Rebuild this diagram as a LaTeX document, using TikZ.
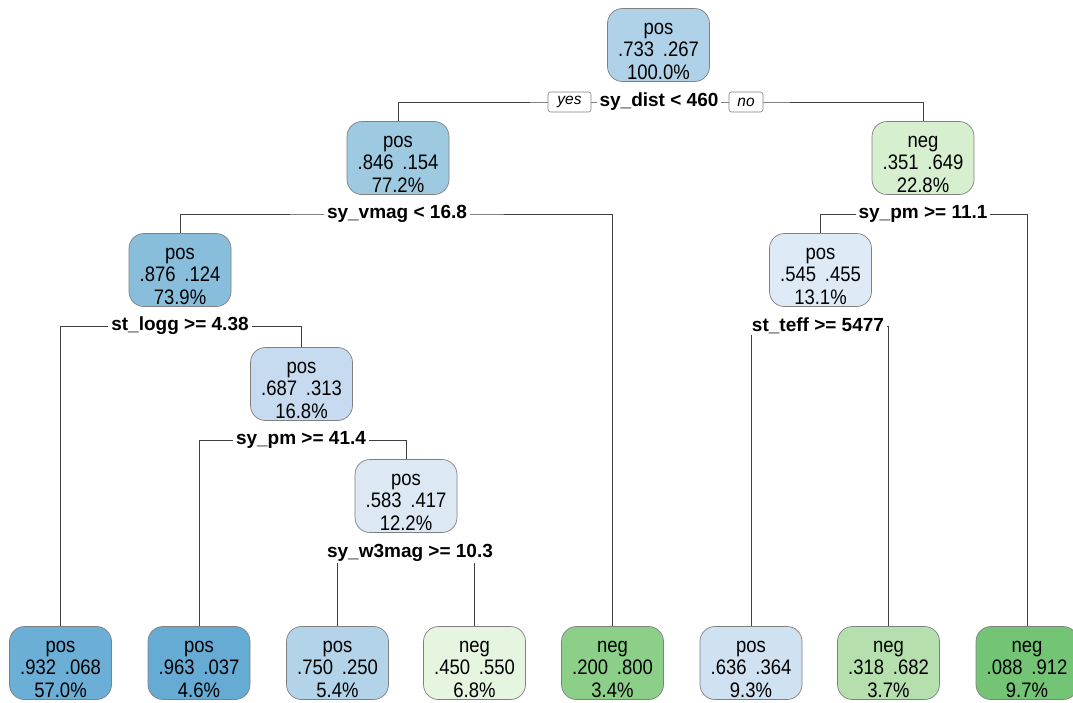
\documentclass[tikz,border=0pt]{standalone}
\usepackage{fontspec}
\setmainfont{Liberation Sans}
\newfontfamily\nodefont{Liberation Sans}[FakeStretch=0.88]
\usetikzlibrary{backgrounds}
\definecolor{boxgray}{HTML}{808080}
\definecolor{linegray}{HTML}{404040}
\definecolor{cA}{HTML}{B0D2E8}
\definecolor{cB}{HTML}{9ECAE1}
\definecolor{cC}{HTML}{88BEDC}
\definecolor{cD}{HTML}{6BAED6}
\definecolor{cE}{HTML}{66ABD4}
\definecolor{cF}{HTML}{C6DBEF}
\definecolor{cG}{HTML}{DCE9F5}
\definecolor{cH}{HTML}{B3D3E8}
\definecolor{cI}{HTML}{DEEBF7}
\definecolor{cJ}{HTML}{D0E2F2}
\definecolor{gA}{HTML}{D5EFCF}
\definecolor{gB}{HTML}{E5F5E0}
\definecolor{gC}{HTML}{8BCF89}
\definecolor{gD}{HTML}{B5E0AE}
\definecolor{gE}{HTML}{74C476}
\newcommand\tl{\rule{0pt}{24pt}}
\newcommand\gp{\hspace{0.42em}}
\begin{document}
\begin{tikzpicture}[x=1pt,y=-1pt,
  tbox/.style={draw=boxgray, line width=0.7pt, rounded corners=15pt,
    minimum width=102pt, minimum height=73pt, align=center, inner sep=0pt,
    text=black, font=\nodefont\fontsize{21}{22.5}\selectfont},
  split/.style={fill=white, inner xsep=3pt, inner ysep=1pt,
    font=\fontsize{19}{22}\selectfont\bfseries},
  yn/.style={draw=boxgray, fill=white, rounded corners=2.5pt, line width=0.6pt,
    font=\fontsize{15.5}{18}\selectfont\itshape, minimum height=20pt,
    inner xsep=2pt, inner ysep=0pt},
  edge/.style={draw=linegray, line width=0.7pt}]
\useasboundingbox (0,0) rectangle (1073,702);

% internal nodes
\node[tbox, fill=cA] (n1) at (658.5,45) {\tl pos\\.733\gp.267\\100.0\%};
\node[tbox, fill=cB] (n2) at (398,158) {\tl pos\\.846\gp.154\\77.2\%};
\node[tbox, fill=gA] (n3) at (923,158) {\tl neg\\.351\gp.649\\22.8\%};
\node[tbox, fill=cC] (n4) at (180,270) {\tl pos\\.876\gp.124\\73.9\%};
\node[tbox, fill=cI] (n5) at (820.5,270) {\tl pos\\.545\gp.455\\13.1\%};
\node[tbox, fill=cF] (n6) at (301.5,384) {\tl pos\\.687\gp.313\\16.8\%};
\node[tbox, fill=cG] (n7) at (406,496) {\tl pos\\.583\gp.417\\12.2\%};

% leaves
\node[tbox, fill=cD] (l1) at (60.5,663) {\tl pos\\.932\gp.068\\57.0\%};
\node[tbox, fill=cE] (l2) at (199,663) {\tl pos\\.963\gp.037\\4.6\%};
\node[tbox, fill=cH] (l3) at (337.5,663) {\tl pos\\.750\gp.250\\5.4\%};
\node[tbox, fill=gB] (l4) at (474.5,663) {\tl neg\\.450\gp.550\\6.8\%};
\node[tbox, fill=gC] (l5) at (612.5,663) {\tl neg\\.200\gp.800\\3.4\%};
\node[tbox, fill=cJ] (l6) at (751,663) {\tl pos\\.636\gp.364\\9.3\%};
\node[tbox, fill=gD] (l7) at (888.5,663) {\tl neg\\.318\gp.682\\3.7\%};
\node[tbox, fill=gE] (l8) at (1027,663) {\tl neg\\.088\gp.912\\9.7\%};

% split labels
\node[split] (s1) at (659,102) {sy\_dist < 460};
\node[yn, minimum width=43pt] (yes) at (569.5,102) {yes};
\node[yn, minimum width=34pt] (no) at (746,102) {no};
\node[split] (s2) at (397,214) {sy\_vmag < 16.8};
\node[split] (s3) at (923,214) {sy\_pm >= 11.1};
\node[split] (s4) at (180,326) {st\_logg >= 4.38};
\node[split] (s5) at (818,326) {st\_teff >= 5477};
\node[split] (s6) at (301,440) {sy\_pm >= 41.4};
\node[split] (s7) at (410,553) {sy\_w3mag >= 10.3};

\begin{scope}[on background layer]
\fill[white] (0,0) rectangle (1073,702);
\draw[edge] (n2.north) |- (s1.center) -| (n3.north);
\draw[edge] (n4.north) |- (s2.center) -| (l5.north);
\draw[edge] (n5.north) |- (s3.center) -| (l8.north);
\draw[edge] (l1.north) |- (s4.center) -| (n6.north);
\draw[edge] (l6.north) |- (s5.center) -| (l7.north);
\draw[edge] (l2.north) |- (s6.center) -| (n7.north);
\draw[edge] (l3.north) |- (s7.center) -| (l4.north);
\end{scope}
\end{tikzpicture}
\end{document}
